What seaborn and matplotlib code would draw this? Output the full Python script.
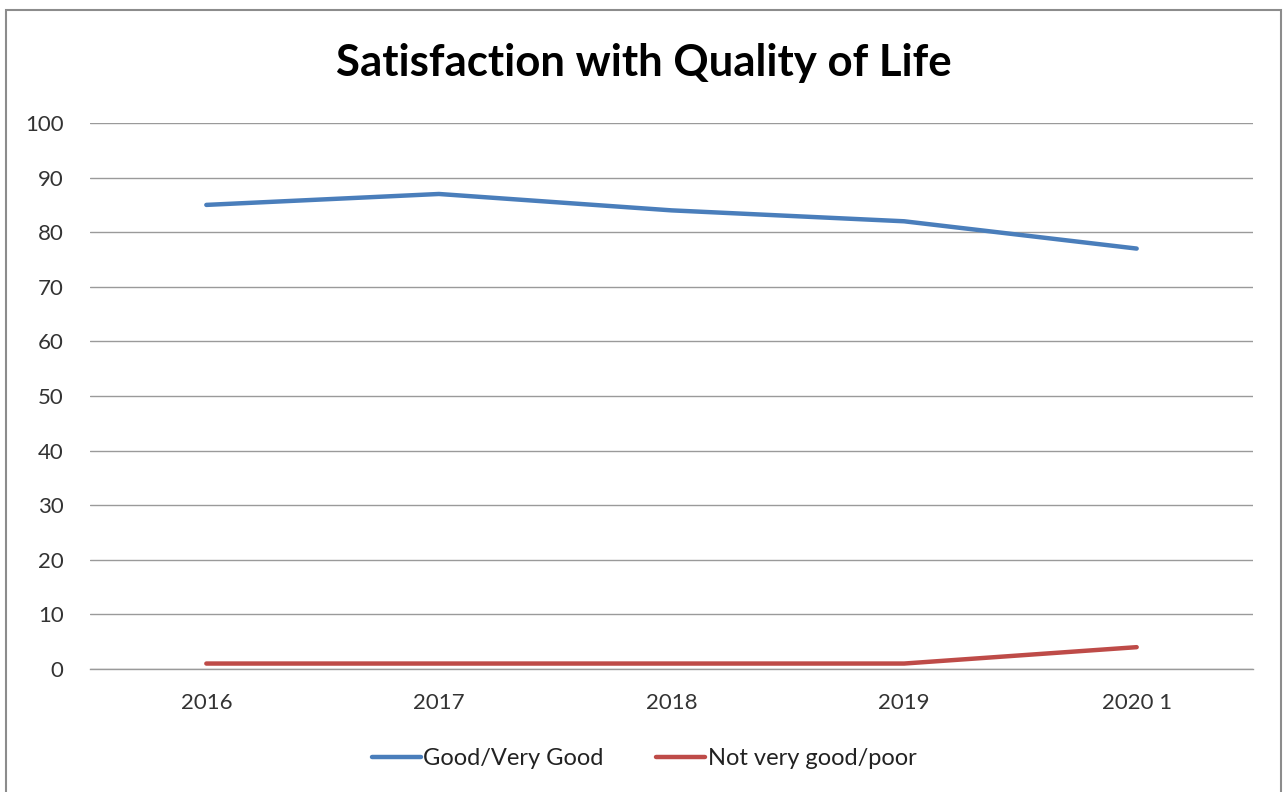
import matplotlib
matplotlib.use("Agg")
import matplotlib.pyplot as plt
import seaborn as sns
import pandas as pd
from matplotlib.patches import Rectangle

years = ["2016", "2017", "2018", "2019", "2020 1"]
good_very_good = [85, 87, 84, 82, 77]
not_very_good_poor = [1, 1, 1, 1, 4]
series_names = ["Good/Very Good", "Not very good/poor"]
y_ticks = [0, 10, 20, 30, 40, 50, 60, 70, 80, 90, 100]

df = pd.DataFrame({
    "Year": years * 2,
    "Value": good_very_good + not_very_good_poor,
    "Series": [series_names[0]] * len(years) + [series_names[1]] * len(years),
})

sns.set_theme(style="white")
plt.rcParams["font.family"] = ["Lato", "DejaVu Sans"]

fig = plt.figure(figsize=(12.88, 7.92), dpi=100)
ax = fig.add_axes([0.0699, 0.1553, 0.9029, 0.6894])

palette = {series_names[0]: "#4A7EBB", series_names[1]: "#BE4B48"}
sns.lineplot(data=df, x="Year", y="Value", hue="Series", palette=palette,
             linewidth=3.2, sort=False, ax=ax, legend=True, zorder=3)

ax.set_xlim(-0.5, len(years) - 0.5)
ax.set_ylim(0, 100)
ax.set_yticks(y_ticks)
ax.set_xlabel("")
ax.set_ylabel("")
ax.grid(axis="y", color="#9A9A9A", linewidth=1.0)
ax.set_axisbelow(True)
for s in ax.spines.values():
    s.set_visible(False)
ax.spines["bottom"].set_visible(True)
ax.spines["bottom"].set_color("#9A9A9A")
ax.spines["bottom"].set_linewidth(1.0)
ax.tick_params(axis="both", length=0, labelsize=16, labelcolor="#333333")
ax.tick_params(axis="y", pad=19)
ax.tick_params(axis="x", pad=17)

fig.text(0.5, 0.921, "Satisfaction with Quality of Life", ha="center", va="center",
         fontsize=31.5, fontweight="bold", color="black")

handles, labels = ax.get_legend_handles_labels()
ax.legend(handles, labels, loc="center", bbox_to_anchor=(0.5, 0.042),
          bbox_transform=fig.transFigure, ncol=2, frameon=False,
          fontsize=17, handlelength=2.1, handletextpad=0.1, columnspacing=2.2,
          labelcolor="#222222")

border = Rectangle((6 / 1288, -0.01), 1275 / 1288, 1 - 10 / 792 + 0.01,
                   transform=fig.transFigure, fill=False, edgecolor="#8C8C8C",
                   linewidth=1.5)
fig.patches.append(border)

fig.savefig("out.png", dpi=100, facecolor="white")
